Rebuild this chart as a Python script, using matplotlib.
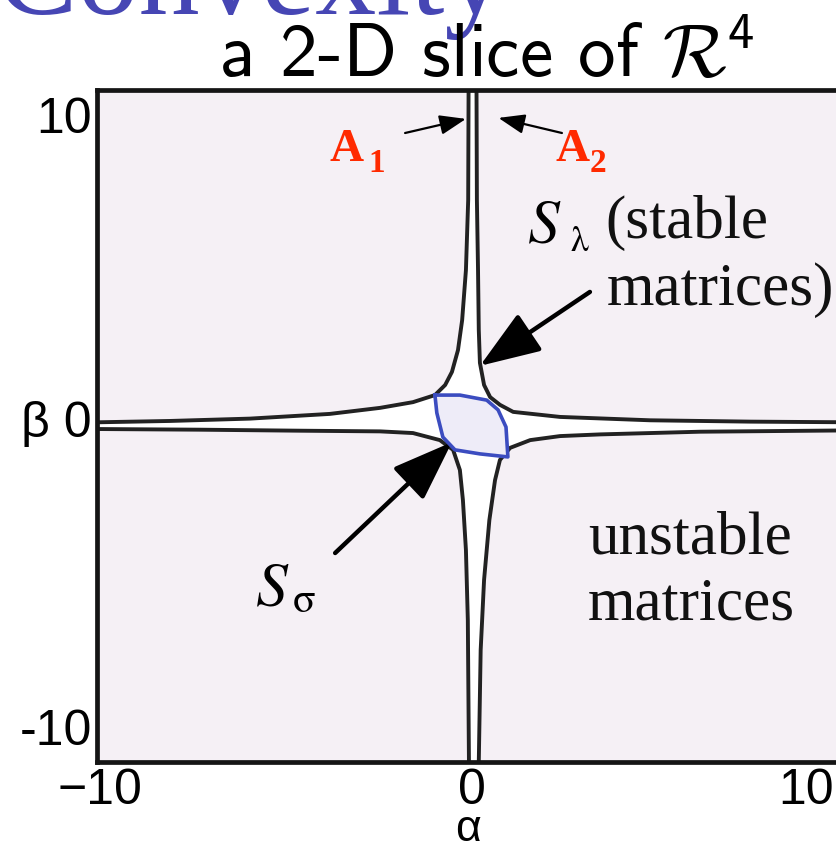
import matplotlib.pyplot as plt
from matplotlib.patches import ArrowStyle

plt.rcParams['mathtext.fontset'] = 'custom'
plt.rcParams['mathtext.rm'] = 'cmss10'
plt.rcParams['mathtext.cal'] = 'cmsy10'

W, H = 837, 851

# boundary of the stable set S_lambda, one curve per quadrant (alpha, beta)
ul_alpha = [-0.17, -0.18, -0.24, -0.34, -0.45, -0.61, -0.79, -1.06, -1.64, -2.51, -3.84, -5.95, -8.07, -10.0]
ul_beta = [10.0, 6.73, 4.64, 3.15, 2.26, 1.61, 1.22, 0.92, 0.71, 0.54, 0.36, 0.22, 0.15, 0.11]

ll_alpha = [-10.0, -7.28, -4.63, -2.51, -1.64, -0.93, -0.58, -0.40, -0.32, -0.24, -0.19, -0.16]
ll_beta = [-0.09, -0.11, -0.14, -0.16, -0.21, -0.42, -0.71, -1.31, -2.20, -3.69, -5.77, -10.0]

lr_alpha = [0.10, 0.15, 0.24, 0.38, 0.53, 0.66, 0.93, 1.46, 2.25, 3.31, 5.95, 10.0]
lr_beta = [-10.0, -6.67, -4.58, -2.80, -1.61, -1.01, -0.65, -0.42, -0.30, -0.25, -0.17, -0.13]

ur_alpha = [10.0, 7.28, 4.63, 2.25, 1.01, 0.66, 0.40, 0.24, 0.13, 0.10, 0.08, 0.05, 0.04]
ur_beta = [0.11, 0.13, 0.17, 0.27, 0.42, 0.63, 0.86, 1.22, 1.88, 2.86, 4.64, 6.73, 10.0]

# the spectral-abscissa set S_sigma (closed curve)
sig_alpha = [-1.06, -0.40, 0.31, 0.61, 0.82, 0.87, 0.13, -0.53, -0.85, -1.01, -1.06]
sig_beta = [0.92, 0.92, 0.77, 0.48, -0.03, -0.92, -0.83, -0.71, -0.33, 0.39, 0.92]

fig = plt.figure(figsize=(W / 100, H / 100), dpi=100)


def fx(x):
    return x / W


def fy(y):
    return 1 - y / H


ax = fig.add_axes([97 / W, 1 - 762 / H, 756 / W, 672 / H])
ax.set_facecolor('#f5f0f5')
ax.set_xlim(-10, 10)
ax.set_ylim(-10, 10)
ax.set_xticks([])
ax.set_yticks([])
for s in ax.spines.values():
    s.set_linewidth(3.4)
    s.set_color('#151515')

# stable region filled white
poly_a = ul_alpha + ll_alpha + lr_alpha + ur_alpha
poly_b = ul_beta + ll_beta + lr_beta + ur_beta
ax.fill(poly_a, poly_b, color='white', zorder=1)
for a, b in [(ul_alpha, ul_beta), (ll_alpha, ll_beta), (lr_alpha, lr_beta), (ur_alpha, ur_beta)]:
    ax.plot(a, b, color='#222222', lw=2.8, solid_joinstyle='round', zorder=2)

ax.fill(sig_alpha, sig_beta, color='#eeecf8', zorder=3)
ax.plot(sig_alpha, sig_beta, color='#3b4cc0', lw=2.6, solid_joinstyle='round', zorder=4)

red = '#ff2a00'
serif = 'Liberation Serif'

# A1 / A2 labels and thin arrows
ax.text(-3.84, 7.9, 'A', color=red, fontsize=34, fontweight='bold', family=serif, va='baseline')
ax.text(-2.83, 7.56, '1', color=red, fontsize=24, fontweight='bold', family=serif, va='baseline')
ax.text(2.12, 7.9, 'A', color=red, fontsize=34, fontweight='bold', family=serif, va='baseline')
ax.text(3.02, 7.56, '2', color=red, fontsize=24, fontweight='bold', family=serif, va='baseline')
thin = dict(arrowstyle=ArrowStyle('-|>', head_length=0.8, head_width=0.3), lw=1.6, color='k',
            mutation_scale=20, shrinkA=0, shrinkB=0)
ax.annotate('', xy=(-0.24, 9.14), xytext=(-1.85, 8.72), arrowprops=thin)
ax.annotate('', xy=(0.62, 9.17), xytext=(2.30, 8.72), arrowprops=thin)

# S_lambda and S_sigma labels with thick arrows
thick = dict(arrowstyle=ArrowStyle('-|>', head_length=1.5, head_width=0.55), lw=3.2, color='k',
             mutation_scale=25, shrinkA=0, shrinkB=0)
ax.annotate('', xy=(0.13, 1.79), xytext=(3.04, 3.99), arrowprops=thick)
ax.annotate('', xy=(-0.61, -0.48), xytext=(-3.70, -3.78), arrowprops=thick)

ax.text(1.38, 5.45, r'$S$', fontsize=46, va='baseline', math_fontfamily='stix')
ax.text(2.51, 5.2, r'$\mathrm{\lambda}$', fontsize=26, va='baseline', math_fontfamily='stix')
ax.text(3.44, 5.6, '(stable', fontsize=44, family=serif, va='baseline', color='#111111')
ax.text(3.49, 3.6, 'matrices)', fontsize=44, family=serif, va='baseline', color='#111111')

ax.text(-5.82, -5.33, r'$S$', fontsize=46, va='baseline', math_fontfamily='stix')
ax.text(-4.84, -5.55, r'$\mathrm{\sigma}$', fontsize=30, va='baseline', math_fontfamily='stix')

ax.text(2.99, -3.78, 'unstable', fontsize=44, family=serif, va='baseline', color='#111111')
ax.text(2.99, -5.77, 'matrices', fontsize=44, family=serif, va='baseline', color='#111111')

# axis labels
sans = 'Liberation Sans'
fig.text(fx(100), fy(791), '\u221210', fontsize=36, family=sans, ha='center', va='center')
fig.text(fx(472), fy(791), '0', fontsize=36, family=sans, ha='center', va='center')
fig.text(fx(806), fy(791), '10', fontsize=36, family=sans, ha='center', va='center')
fig.text(fx(468), fy(850), '\u03b1', fontsize=32, family=sans, ha='center', va='bottom')
fig.text(fx(92), fy(120), '10', fontsize=36, family=sans, ha='right', va='center')
fig.text(fx(92), fy(424), '\u03b2 0', fontsize=36, family=sans, ha='right', va='center')
fig.text(fx(92), fy(732), '-10', fontsize=36, family=sans, ha='right', va='center')

# headings
fig.text(fx(-4), fy(14), 'Convexity', fontsize=88, family=serif, color='#4646b4', va='baseline')
fig.text(fx(486), fy(77), r'a 2-D slice of $\mathcal{R}^4$', fontsize=54, family='cmss10',
         math_fontfamily='custom', ha='center', va='baseline')

fig.savefig('out.png', dpi=100)
